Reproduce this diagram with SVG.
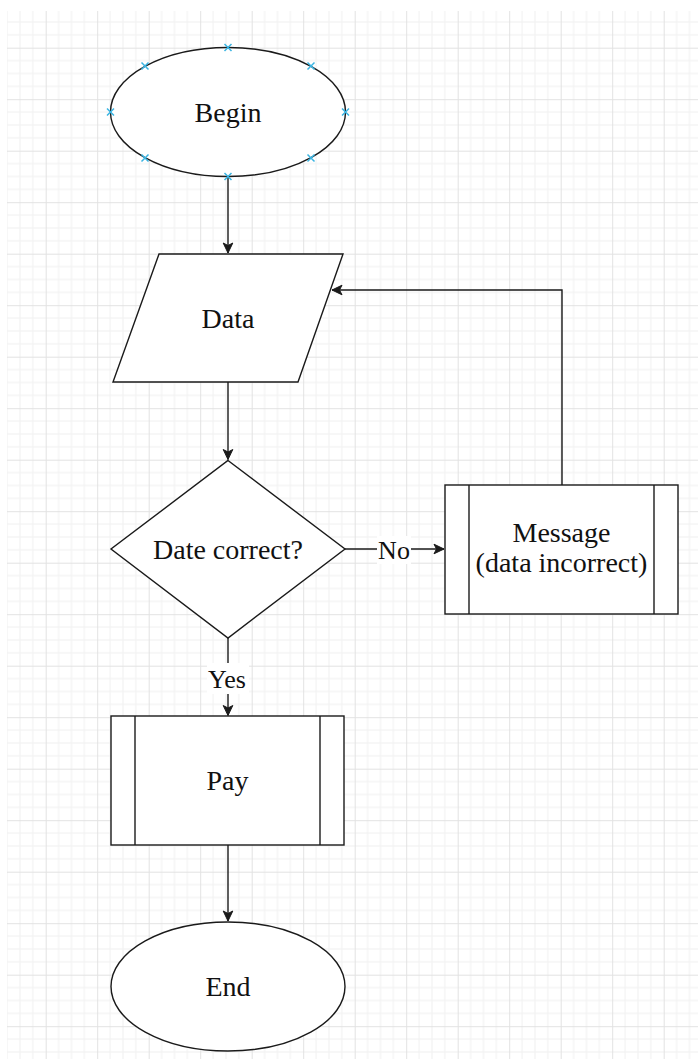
<svg xmlns="http://www.w3.org/2000/svg" width="698" height="1059" viewBox="0 0 698 1059">
  <style>
    .shape { fill: #ffffff; stroke: #1a1a1a; stroke-width: 1.4; }
    .bar { fill: none; stroke: #1a1a1a; stroke-width: 1.4; }
    .edge { fill: none; stroke: #1a1a1a; stroke-width: 1.4; }
    .label { font-family: "Liberation Serif", "Times New Roman", serif; font-size: 28px; fill: #111111; text-anchor: middle; }
    .edge-label { font-family: "Liberation Serif", "Times New Roman", serif; font-size: 26px; fill: #111111; text-anchor: middle; }
    .port { fill: none; stroke: #3ab4e2; stroke-width: 1.5; }
    .minor { stroke: #f0f0f0; stroke-width: 1; }
    .major { stroke: #e2e2e2; stroke-width: 1; }
  </style>
  <defs>
    <!-- background grid: major line every 51.5px, four cells per major -->
    <pattern id="grid" patternUnits="userSpaceOnUse" x="45.7" y="47.7" width="51.5" height="51.5">
      <line class="minor" x1="12.9" y1="0" x2="12.9" y2="51.5"/>
      <line class="minor" x1="25.75" y1="0" x2="25.75" y2="51.5"/>
      <line class="minor" x1="38.6" y1="0" x2="38.6" y2="51.5"/>
      <line class="minor" x1="0" y1="12.9" x2="51.5" y2="12.9"/>
      <line class="minor" x1="0" y1="25.75" x2="51.5" y2="25.75"/>
      <line class="minor" x1="0" y1="38.6" x2="51.5" y2="38.6"/>
      <line class="major" x1="0.5" y1="0" x2="0.5" y2="51.5"/>
      <line class="major" x1="0" y1="0.5" x2="51.5" y2="0.5"/>
    </pattern>
    <marker id="arrow" markerUnits="userSpaceOnUse" viewBox="-11 -6 12 12" refX="0" refY="0" markerWidth="12" markerHeight="12" orient="auto">
      <path d="M0,0 L-10,-4.8 L-7.5,0 L-10,4.8 Z" fill="#1a1a1a" stroke="#1a1a1a" stroke-width="1"/>
    </marker>
  </defs>

  <rect x="0" y="0" width="698" height="1059" fill="#ffffff"/>
  <rect x="7" y="11" width="691" height="1048" fill="url(#grid)"/>

  <!-- connectors -->
  <g id="connectors">
    <path class="edge" d="M228,177 L228,253" marker-end="url(#arrow)"/>
    <path class="edge" d="M228,382 L228,459.5" marker-end="url(#arrow)"/>
    <path class="edge" d="M345,549 L444,549" marker-end="url(#arrow)"/>
    <path class="edge" d="M228,638 L228,715.5" marker-end="url(#arrow)"/>
    <path class="edge" d="M228,845 L228,921" marker-end="url(#arrow)"/>
    <path class="edge" d="M562,485 L562,290 L332,290" marker-end="url(#arrow)"/>
    <g id="label-no">
      <rect x="377" y="536" width="34" height="28" fill="#ffffff"/>
      <text class="edge-label" x="394" y="558.5">No</text>
    </g>
    <g id="label-yes">
      <rect x="207" y="663" width="42" height="31" fill="#ffffff"/>
      <text class="edge-label" x="227" y="687.5">Yes</text>
    </g>
  </g>

  <!-- start terminator with its connection points -->
  <g id="node-begin">
    <ellipse class="shape" cx="228" cy="112" rx="117.5" ry="64.5"/>
    <text class="label" x="228" y="121.5">Begin</text>
    <g class="port">
      <path d="M224.5,44 l7,7 m0,-7 l-7,7"/>
      <path d="M224.5,173 l7,7 m0,-7 l-7,7"/>
      <path d="M107,108.5 l7,7 m0,-7 l-7,7"/>
      <path d="M342,108.5 l7,7 m0,-7 l-7,7"/>
      <path d="M141.5,62.5 l7,7 m0,-7 l-7,7"/>
      <path d="M307.5,62.5 l7,7 m0,-7 l-7,7"/>
      <path d="M141.5,154.5 l7,7 m0,-7 l-7,7"/>
      <path d="M307.5,154.5 l7,7 m0,-7 l-7,7"/>
    </g>
  </g>

  <!-- input -->
  <g id="node-data">
    <polygon class="shape" points="159,254 343,254 298,382 113,382"/>
    <text class="label" x="228" y="327.5">Data</text>
  </g>

  <!-- decision -->
  <g id="node-check">
    <polygon class="shape" points="228,460.5 345,549 228,638 111,549"/>
    <text class="label" x="228" y="558.5">Date correct?</text>
  </g>

  <!-- error message subprocess -->
  <g id="node-message">
    <rect class="shape" x="445" y="485" width="233" height="129"/>
    <line class="bar" x1="469" y1="485" x2="469" y2="614"/>
    <line class="bar" x1="654" y1="485" x2="654" y2="614"/>
    <text class="label" x="561.5" y="542">Message</text>
    <text class="label" x="561.5" y="572">(data incorrect)</text>
  </g>

  <!-- payment subprocess -->
  <g id="node-pay">
    <rect class="shape" x="111" y="716" width="233" height="129"/>
    <line class="bar" x1="135" y1="716" x2="135" y2="845"/>
    <line class="bar" x1="320" y1="716" x2="320" y2="845"/>
    <text class="label" x="227.5" y="790">Pay</text>
  </g>

  <!-- end terminator -->
  <g id="node-end">
    <ellipse class="shape" cx="228" cy="986.5" rx="117" ry="64.5"/>
    <text class="label" x="228" y="995.5">End</text>
  </g>
</svg>
